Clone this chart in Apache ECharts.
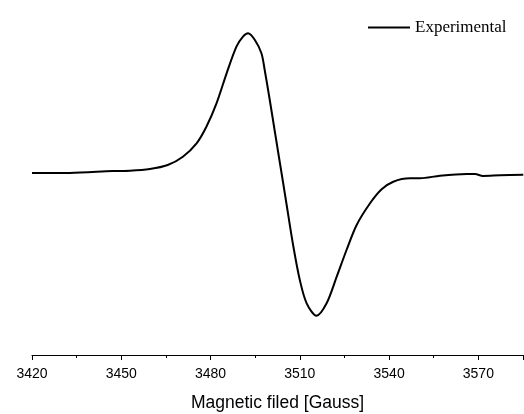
<!DOCTYPE html>
<html>
<head>
<meta charset="utf-8">
<script src="https://cdn.jsdelivr.net/npm/echarts@6/dist/echarts.min.js"></script>
<style>
  html, body { margin: 0; padding: 0; background: #fff; }
  #main { width: 524px; height: 414px; }
</style>
</head>
<body>
<div id="main"></div>
<script>
// field values (Gauss)
var field = [3420, 3432.7, 3447.1, 3452.9, 3459.6, 3465.6, 3470.7, 3475.3, 3478.6, 3482.0,
  3485.4, 3488.7, 3490.9, 3492.6, 3494.9, 3497.1, 3498.2, 3499.9, 3501.6, 3503.2,
  3504.4, 3505.5, 3507.8, 3510.0, 3512.3, 3515.6, 3519.0, 3522.4, 3525.7, 3529.1,
  3533.6, 3537.5, 3541.4, 3547.0, 3550.4, 3557.1, 3566.1, 3568.9, 3571.5, 3577.3, 3585.1]
// signal (arb. units)
var signal = [0, 0, 2, 2.3, 4, 8, 16.3, 29.7, 46.3, 69.7,
  99.7, 126.3, 136.3, 139.7, 133, 119.7, 103, 73, 41.5, 12,
  -10, -30.5, -73, -107, -130.3, -142.7, -130.3, -103.7, -77, -52,
  -30.3, -16.3, -8.7, -5.3, -5.3, -2.7, -1, -1, -3, -2.3, -1.7]
var xTicks = [3420, 3450, 3480, 3510, 3540, 3570]

var pts = []
for (var i = 0; i < field.length; i++) {
    pts.push([field[i], signal[i]])
}

var myChart = echarts.init(document.getElementById('main'))
var option = {
    backgroundColor: '#fff',
    animation: false,
    legend: {
        data: ['Experimental'],
        left: 368,
        top: 19,
        padding: 0,
        icon: 'rect',
        itemWidth: 42,
        itemHeight: 2,
        textStyle: {
            fontFamily: 'Liberation Serif',
            fontSize: 17,
            color: '#000'
        }
    },
    grid: {
        left: 32,
        right: 1,
        top: 0,
        bottom: 59,
        outerBoundsMode: 'none'
    },
    xAxis: {
        type: 'value',
        min: 3420,
        max: 3585,
        interval: 30,
        name: 'Magnetic filed [Gauss]',
        nameLocation: 'middle',
        nameGap: 39,
        nameTextStyle: {
            fontFamily: 'Liberation Sans',
            fontSize: 17.5,
            color: '#000'
        },
        axisLine: { onZero: false, lineStyle: { color: '#000', width: 1 } },
        axisTick: { length: 5, lineStyle: { color: '#000' } },
        minorTick: { show: true, splitNumber: 2, length: 3, lineStyle: { color: '#000' } },
        splitLine: { show: false },
        axisLabel: {
            fontFamily: 'Liberation Sans',
            fontSize: 14,
            color: '#000',
            margin: 12,
            formatter: function (v) { return xTicks.indexOf(v) >= 0 ? v : '' }
        }
    },
    yAxis: {
        type: 'value',
        show: false,
        min: -182,
        max: 173
    },
    series: [
        {
            name: 'Experimental',
            type: 'line',
            data: pts,
            smooth: 0.3,
            symbol: 'none',
            lineStyle: { color: '#000', width: 2 },
            itemStyle: { color: '#000' }
        }
    ]
}
myChart.setOption(option)
window.onresize = myChart.resize
</script>
</body>
</html>
